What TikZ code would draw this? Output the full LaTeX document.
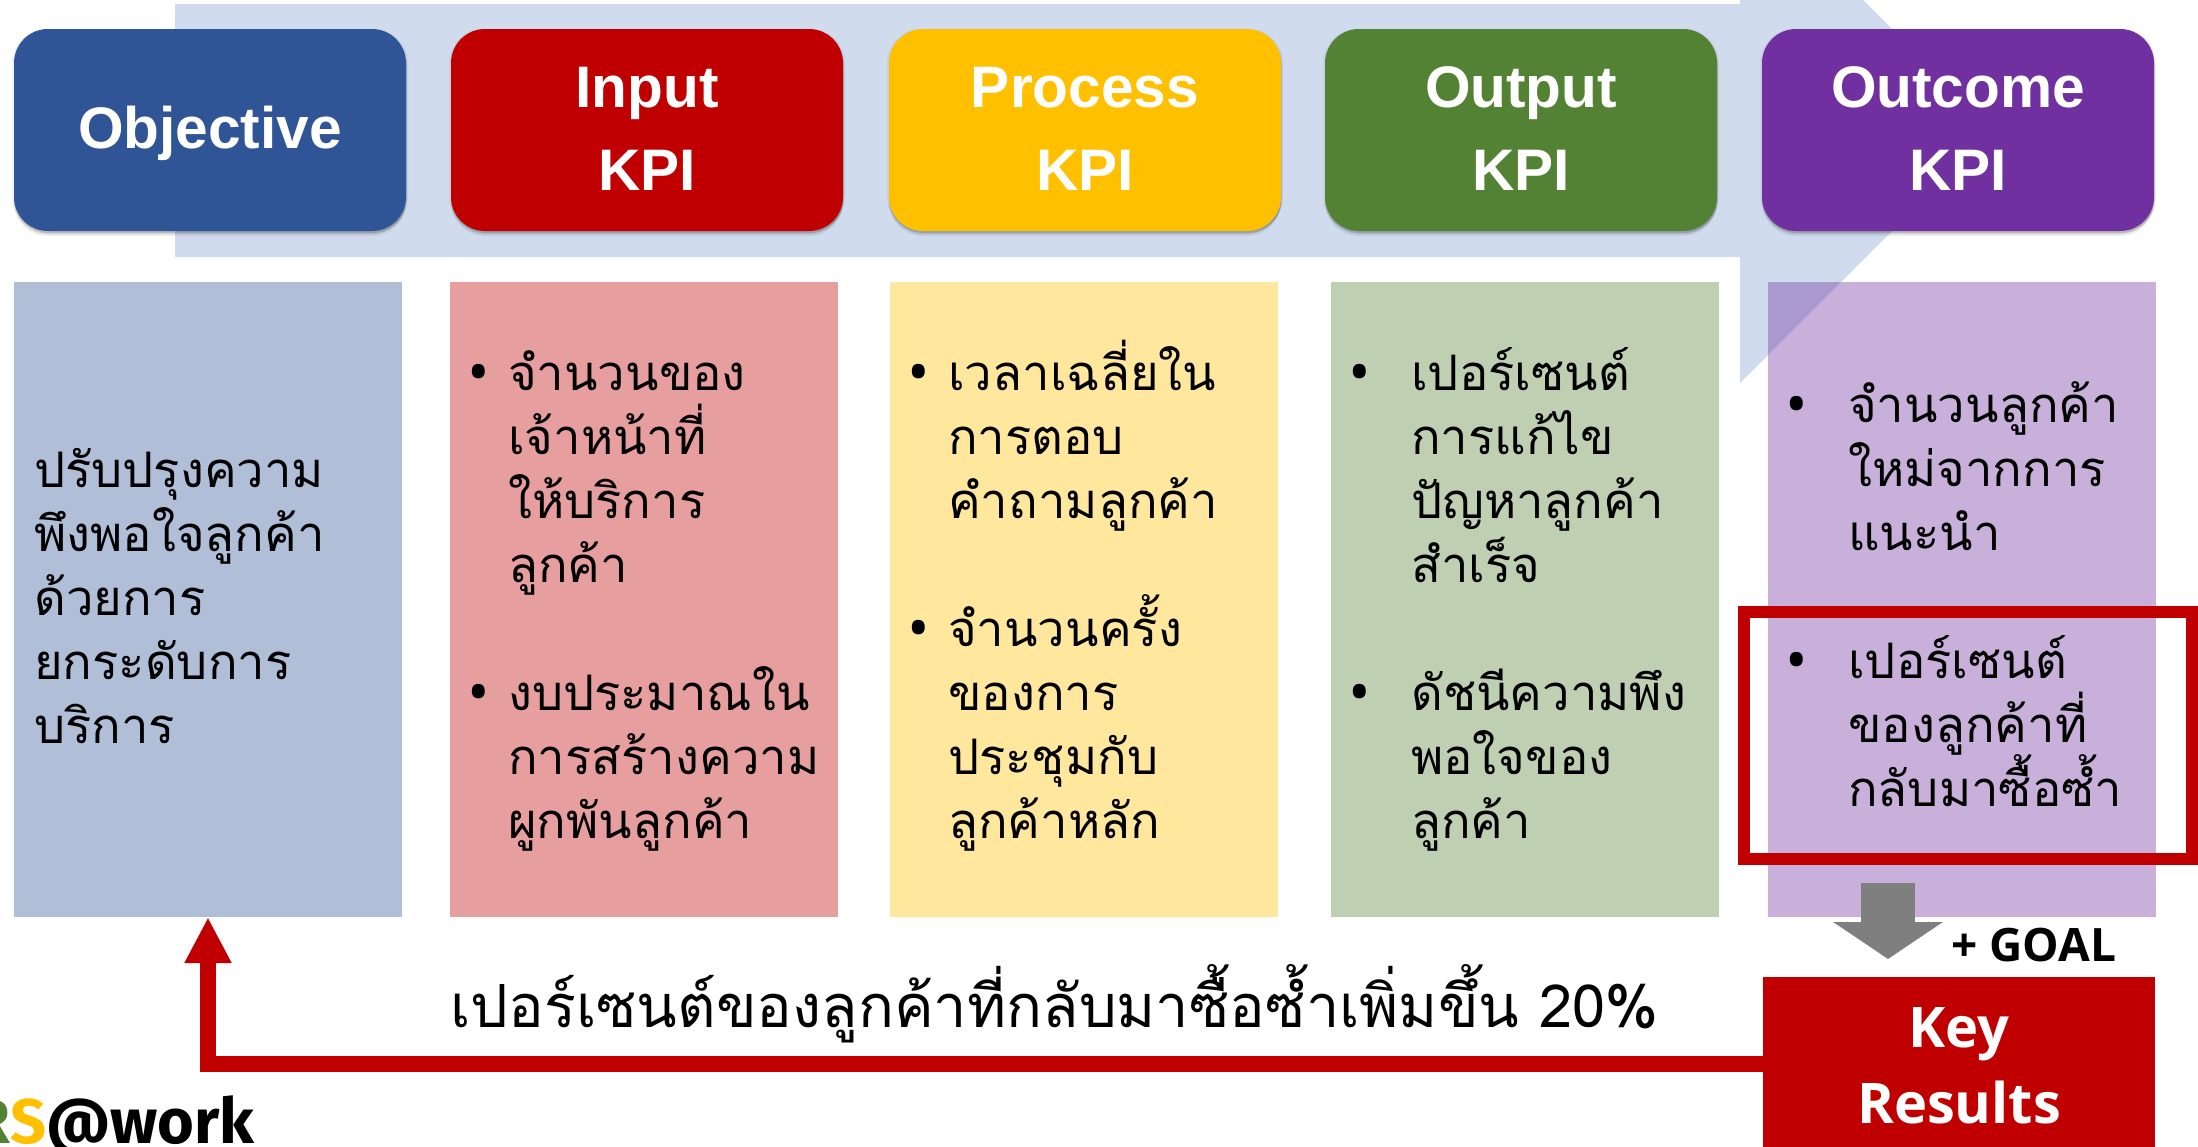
\documentclass[tikz,border=0pt]{standalone}
\usepackage{fontspec}
\setmainfont{Liberation Sans}
\newfontfamily\thaifont[Script=Thai]{Loma}
\newfontfamily\notofont{Open Sans}
\newfontfamily\logofont{Fira Sans}
\usetikzlibrary{arrows.meta,shadows}
\definecolor{cBlue}{HTML}{2F5597}
\definecolor{cRed}{HTML}{C00000}
\definecolor{cYellow}{HTML}{FFC000}
\definecolor{cGreen}{HTML}{548235}
\definecolor{cPurple}{HTML}{7030A0}
\definecolor{cBand}{HTML}{D0DCEE}
\definecolor{cGray}{HTML}{7F7F7F}
\newcommand{\hstrut}{\rule[-23pt]{0pt}{83pt}}
\newcommand{\tstrut}{\rule[-19.2pt]{0pt}{64pt}}
\newcommand{\kstrut}{\rule[-23pt]{0pt}{76pt}}
\newcommand{\bul}[1]{\llap{\raisebox{-3pt}{\fontsize{60}{60}\notofont\selectfont •}\hspace{#1pt}}}
\newcommand{\tll}[1]{\tstrut\smash{#1}}
\newcommand{\tl}[1]{\tll{#1}\\}
\tikzset{
  softshadow/.style={
    general shadow={fill=black,fill opacity=.07,shadow xshift=0pt,shadow yshift=-5pt},
    general shadow={fill=black,fill opacity=.10,shadow xshift=0pt,shadow yshift=-3pt},
    general shadow={fill=black,fill opacity=.12,shadow xshift=1pt,shadow yshift=-2pt},
    general shadow={fill=black,fill opacity=.05,shadow xshift=2pt,shadow yshift=0pt},
    general shadow={fill=black,fill opacity=.05,shadow xshift=-2pt,shadow yshift=0pt}},
  hdr/.style={rectangle,rounded corners=34pt,minimum width=392pt,minimum height=202pt,inner sep=0pt,
    softshadow,text=white,align=center,font=\fontsize{58.6}{83}\selectfont\bfseries},
  panel/.style={rectangle,minimum width=388pt,minimum height=635pt,inner sep=0pt,fill opacity=.38},
  bodytext/.style={anchor=west,inner sep=0pt,align=left,text=black,font=\fontsize{49}{64}\thaifont\selectfont},
}
\begin{document}
\begin{tikzpicture}[x=1pt,y=-1pt]
\useasboundingbox (0,0) rectangle (2198,1146);
\clip (0,0) rectangle (2198,1146);
% band arrow
\fill[cBand] (175,4) -- (1740,4) -- (1740,-123) -- (1993,130) -- (1740,383) -- (1740,257) -- (175,257) -- cycle;
% headers
\node[hdr,fill=cBlue]   (hObj) at (210,130)  {\hstrut Objective};
\node[hdr,fill=cRed]    (hIn)  at (647,130)  {\hstrut Input\\\hstrut KPI};
\node[hdr,fill=cYellow] (hPr)  at (1085,130) {\hstrut Process\\\hstrut KPI};
\node[hdr,fill=cGreen]  (hOu)  at (1521,130) {\hstrut Output\\\hstrut KPI};
\node[hdr,fill=cPurple] (hOc)  at (1958,130) {\hstrut Outcome\\\hstrut KPI};
% panels
\node[panel,fill=cBlue]   (pObj) at (208,599.5)  {};
\node[panel,fill=cRed]    (pIn)  at (644,599.5)  {};
\node[panel,fill=cYellow] (pPr)  at (1084,599.5) {};
\node[panel,fill=cGreen]  (pOu)  at (1525,599.5) {};
\node[panel,fill=cPurple] (pOc)  at (1962,599.5) {};
% panel texts
\node[bodytext] (tObj) at (34,603) {\tl{ปรับปรุงความ}\tl{พึงพอใจลูกค้า}\tl{ด้วยการ}\tl{ยกระดับการ}\tll{บริการ}};
\node[bodytext] (tIn) at (508,602) {\tl{\bul{18}จำนวนของ}\tl{เจ้าหน้าที่}\tl{ให้บริการ}\tl{ลูกค้า}\tl{}\tl{\bul{18}งบประมาณใน}\tl{การสร้างความ}\tll{ผูกพันลูกค้า}};
\node[bodytext] (tPr) at (948,602) {\tl{\bul{18}เวลาเฉลี่ยใน}\tl{การตอบ}\tl{คำถามลูกค้า}\tl{}\tl{\bul{18}จำนวนครั้ง}\tl{ของการ}\tl{ประชุมกับ}\tll{ลูกค้าหลัก}};
\node[bodytext] (tOu) at (1411,602) {\tl{\bul{40}เปอร์เซนต์}\tl{การแก้ไข}\tl{ปัญหาลูกค้า}\tl{สำเร็จ}\tl{}\tl{\bul{40}ดัชนีความพึง}\tl{พอใจของ}\tll{ลูกค้า}};
\node[bodytext] (tOc) at (1848,602) {\tl{\bul{40}จำนวนลูกค้า}\tl{ใหม่จากการ}\tl{แนะนำ}\tl{}\tl{\bul{40}เปอร์เซนต์}\tl{ของลูกค้าที่}\tll{กลับมาซื้อซ้ำ}};
% key results
\node[rectangle,fill=cRed,minimum width=392pt,minimum height=187pt,inner sep=0pt,text=white,align=center,
      font=\fontsize{56}{76}\notofont\bfseries\selectfont] (key) at (1959,1070.5) {\kstrut Key\\\kstrut Results};
% red highlight frame
\node[rectangle,draw=cRed,line width=12pt,minimum width=448pt,minimum height=247pt,inner sep=0pt] (frame) at (1968,735.5) {};
% gray arrow
\coordinate (gs) at (1888,883);
\coordinate (ge) at (1888,959);
\draw[cGray,line width=54pt,-{Triangle[width=108pt,length=37pt]}] (gs) -- (ge);
\node[anchor=base west,inner sep=0pt,font=\fontsize{46}{46}\notofont\bfseries\selectfont] (goal) at (1951,961) {+ GOAL};
% feedback arrow
\coordinate (fb) at (1763,1063.5);
\draw[cRed,line width=16pt,-{Triangle[width=44pt,length=46pt]}] (fb) -| (pObj.south);
\node[anchor=base west,inner sep=0pt,font=\fontsize{59.5}{64}\thaifont\selectfont] (kr) at (450,1027) {เปอร์เซนต์ของลูกค้าที่กลับมาซื้อซ้ำเพิ่มขึ้น 20\%};
% logo
\node[anchor=base west,inner sep=0pt,font=\fontsize{63}{63}\logofont\bfseries\selectfont] (logo) at (-29,1143) {\textcolor{cGreen}{R}\textcolor{cYellow}{S}@work};
\end{tikzpicture}
\end{document}
